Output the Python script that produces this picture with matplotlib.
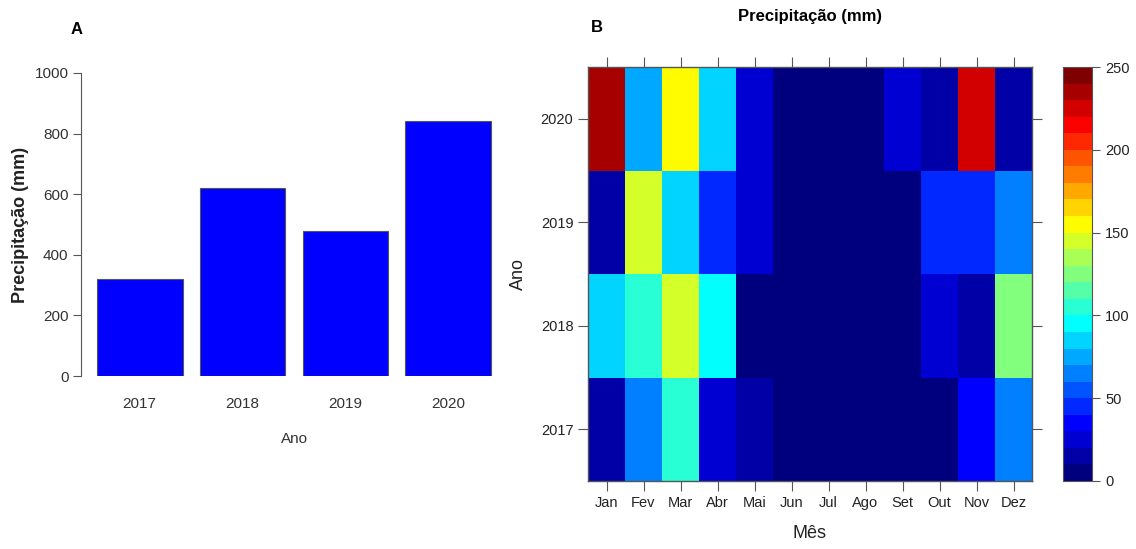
import numpy as np
import matplotlib
matplotlib.use("Agg")
import matplotlib.pyplot as plt
from matplotlib.colors import ListedColormap, BoundaryNorm, LinearSegmentedColormap

plt.rcParams['font.family'] = ['Liberation Sans', 'DejaVu Sans']

# ---- data ----
anos = ["2017", "2018", "2019", "2020"]
precip_anual = [320, 620, 480, 842]

meses = ["Jan", "Fev", "Mar", "Abr", "Mai", "Jun", "Jul", "Ago", "Set", "Out", "Nov", "Dez"]
anos_num = [2017, 2018, 2019, 2020]
p2017 = [15, 65, 105, 25, 15, 5, 5, 5, 5, 5, 35, 65]
p2018 = [85, 105, 145, 95, 5, 5, 5, 5, 5, 25, 15, 125]
p2019 = [15, 145, 85, 45, 25, 5, 5, 5, 5, 45, 45, 65]
p2020 = [235, 75, 155, 85, 25, 5, 5, 5, 25, 15, 225, 15]
cbar_ticks = [0, 50, 100, 150, 200, 250]

W, H = 1136, 549
fig = plt.figure(figsize=(W / 100, H / 100), dpi=100)

def fx(px):
    return px / W

def fy(py):
    return 1 - py / H

tick_col = "#333333"
spine_col = "#555555"

# ---- Panel A ----
axA = fig.add_axes([fx(81), fy(376), fx(507) - fx(81), fy(73) - fy(376)])
centers = [0.7 + 1.2 * i for i in range(len(anos))]
axA.bar(centers, precip_anual, width=1.0, color="#0000FF", edgecolor="#555555", linewidth=0.8)
axA.set_xlim(0.016, 4.984)
axA.set_ylim(0, 1000)
for s in ["top", "right", "bottom"]:
    axA.spines[s].set_visible(False)
axA.spines["left"].set_color(spine_col)
axA.spines["left"].set_bounds(0, 1000)
axA.set_yticks([0, 200, 400, 600, 800, 1000])
axA.tick_params(axis="y", length=6, color=spine_col, labelsize=11, labelcolor=tick_col, pad=3)
axA.set_xticks(centers)
axA.set_xticklabels(anos)
axA.tick_params(axis="x", length=0, labelsize=11, labelcolor=tick_col, pad=15)
axA.set_xlabel("Ano", fontsize=11, color=tick_col, labelpad=15)
axA.set_ylabel("Precipitação (mm)", fontsize=13, fontweight="bold", color="#222222", labelpad=4)
fig.text(fx(77), fy(30), "A", fontsize=12, fontweight="bold", ha="center", va="center")

# ---- Panel B ----
Z = np.array([p2017, p2018, p2019, p2020])
anchors = ["#00007F", "blue", "#007FFF", "cyan", "#7FFF7F", "yellow", "#FF7F00", "red", "#7F0000"]
base = LinearSegmentedColormap.from_list("jetR", anchors)
cmap = ListedColormap(base(np.linspace(0, 1, 25)))
levels = np.arange(0, 260, 10)
norm = BoundaryNorm(levels, cmap.N)

axB = fig.add_axes([fx(588), fy(481), fx(1032) - fx(588), fy(67) - fy(481)])
xe = np.arange(len(meses) + 1) + 0.5
ye = np.array(anos_num + [anos_num[-1] + 1]) - 0.5
axB.pcolormesh(xe, ye, Z, cmap=cmap, norm=norm, shading="flat")
axB.set_xlim(0.5, 12.5)
axB.set_ylim(2016.5, 2020.5)
axB.set_xticks(np.arange(1, 13))
axB.set_xticklabels(meses)
axB.set_yticks(anos_num)
axB.set_yticklabels([str(a) for a in anos_num])
for s in axB.spines.values():
    s.set_color(spine_col)
    s.set_linewidth(1.0)
axB.tick_params(axis="both", which="both", direction="out", length=7, color=spine_col,
                labelsize=10.5, labelcolor="#222222", top=True, right=True,
                labeltop=False, labelright=False)
axB.set_xlabel("Mês", fontsize=13, color="#222222", labelpad=11)
axB.set_ylabel("Ano", fontsize=13, color="#222222", labelpad=10)
axB.set_title("Precipitação (mm)", fontsize=12, fontweight="bold", pad=33)
fig.text(fx(597), fy(28), "B", fontsize=12, fontweight="bold", ha="center", va="center")

# colorbar
cax = fig.add_axes([fx(1063), fy(481), fx(1092) - fx(1063), fy(67) - fy(481)])
sm = matplotlib.cm.ScalarMappable(norm=norm, cmap=cmap)
cb = fig.colorbar(sm, cax=cax, ticks=cbar_ticks)
cb.minorticks_off()
cb.outline.set_edgecolor(spine_col)
cb.outline.set_linewidth(0.8)
cax.tick_params(which="major", length=6, color=spine_col, labelsize=10.5, labelcolor="#222222", direction="out")
cax.tick_params(which="minor", length=0)

fig.savefig("out.png", dpi=100)
